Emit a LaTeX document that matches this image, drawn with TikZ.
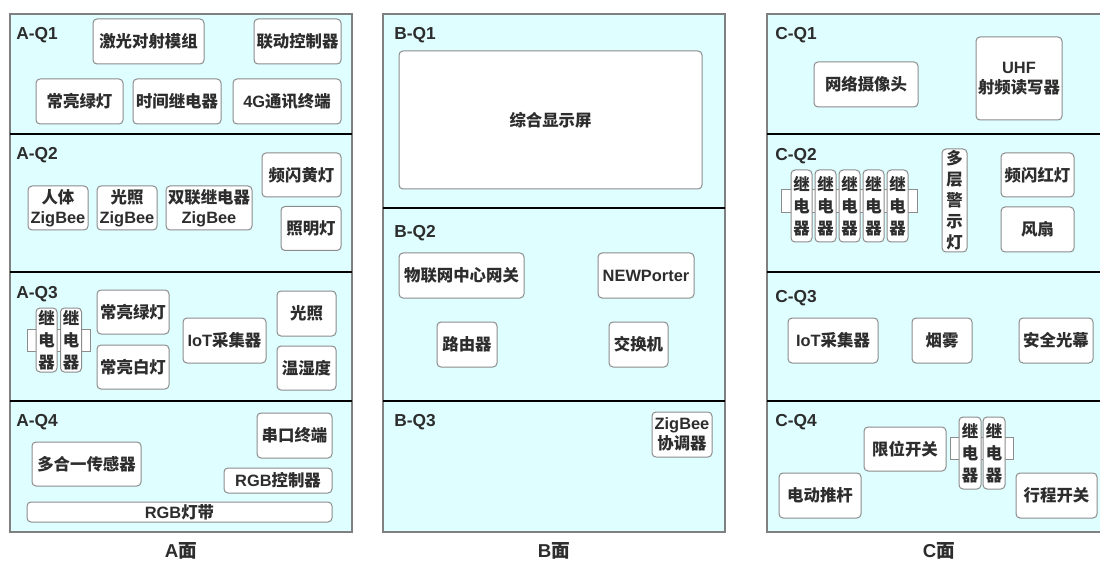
\documentclass[tikz,border=0pt]{standalone}
\usepackage{fontspec}
\setmainfont{Liberation Sans}
\newfontfamily\cjkf{Noto Sans CJK SC}
\newfontfamily\latf{Liberation Sans}
\newcommand\La[1]{{\latf\bfseries #1}}
\definecolor{panelfill}{RGB}{222,254,255}
\definecolor{panelborder}{RGB}{128,128,128}
\definecolor{boxborder}{RGB}{140,140,140}
\definecolor{txt}{RGB}{45,45,45}
\tikzset{
  panel/.style={draw=panelborder, fill=panelfill, line width=1.1pt, inner sep=0},
  divline/.style={line width=2pt, black},
  sz/.style 2 args={minimum width=#1*0.75pt, minimum height=#2*0.75pt},
  box/.style={draw=boxborder, fill=white, rounded corners=3pt, line width=0.75pt, inner sep=0, align=center, text=txt,
     font=\cjkf\bfseries\fontsize{12.3pt}{15pt}\selectfont},
  vbox/.style={box, font=\cjkf\bfseries\fontsize{12.3pt}{16.5pt}\selectfont},
  conn/.style={draw=boxborder, fill=white, line width=0.75pt, inner sep=0},
  seclabel/.style={anchor=west, inner sep=0, text=txt, font=\latf\bfseries\fontsize{13pt}{15pt}\selectfont},
  facelabel/.style={inner sep=0, text=txt, font=\cjkf\bfseries\fontsize{14pt}{16pt}\selectfont},
}
\begin{document}
\begin{tikzpicture}[x=0.75pt, y=-0.75pt]
\useasboundingbox (0,0) rectangle (1100,563);
\clip (0,0) rectangle (1100,563);
% panels
\node[panel, sz={342}{518}] (PA) at (181,273) {};
\node[panel, sz={342}{518}] (PB) at (554,273) {};
\node[panel, sz={338}{518}] (PC) at (936,273) {};
% dividers
\draw[divline] (10,134) -- (352,134);
\draw[divline] (10,272) -- (352,272);
\draw[divline] (10,401) -- (352,401);
\draw[divline] (383,208) -- (725,208);
\draw[divline] (383,401) -- (725,401);
\draw[divline] (767,134) -- (1105,134);
\draw[divline] (767,272) -- (1105,272);
\draw[divline] (767,401) -- (1105,401);
% section labels
\node[seclabel] (aq1) at (16,35) {A-Q1};
\node[seclabel] (aq2) at (16,155) {A-Q2};
\node[seclabel] (aq3) at (16,294) {A-Q3};
\node[seclabel] (aq4) at (16,422) {A-Q4};
\node[seclabel] (bq1) at (394,35) {B-Q1};
\node[seclabel] (bq2) at (394,233) {B-Q2};
\node[seclabel] (bq3) at (394,422) {B-Q3};
\node[seclabel] (cq1) at (775,35) {C-Q1};
\node[seclabel] (cq2) at (775,156) {C-Q2};
\node[seclabel] (cq3) at (775,298) {C-Q3};
\node[seclabel] (cq4) at (775,422) {C-Q4};
% ---- A face
\node[box, sz={111}{45}] (a1) at (148.5,41.5) {激光对射模组};
\node[box, sz={87}{45}] (a2) at (297.5,41.5) {联动控制器};
\node[box, sz={87}{45}] (a3) at (79.5,101.5) {常亮绿灯};
\node[box, sz={88}{45}] (a4) at (177,101.5) {时间继电器};
\node[box, sz={108}{45}] (a5) at (287,101.5) {\La{4G}通讯终端};
\node[box, sz={79}{44}] (a6) at (301.5,175) {频闪黄灯};
\node[box, sz={60}{44}] (a7) at (58,208) {人体\\\La{ZigBee}};
\node[box, sz={60}{44}] (a8) at (127,208) {光照\\\La{ZigBee}};
\node[box, sz={86}{44}] (a9) at (209,208) {双联继电器\\\La{ZigBee}};
\node[box, sz={60}{44}] (a10) at (311,228.5) {照明灯};
\node[conn, sz={63}{22}] (a11c) at (58.5,340) {};
\node[vbox, sz={21}{64}] (a11) at (46.5,340) {继\\电\\器};
\node[vbox, sz={21}{64}] (a12) at (71,340) {继\\电\\器};
\node[box, sz={72}{44}] (a13) at (133,312) {常亮绿灯};
\node[box, sz={72}{44}] (a14) at (133,367) {常亮白灯};
\node[box, sz={83}{45}] (a15) at (224.5,340.5) {\La{IoT}采集器};
\node[box, sz={59}{45}] (a16) at (306.5,313.5) {光照};
\node[box, sz={59}{44}] (a17) at (306.5,368) {温湿度};
\node[box, sz={75}{45}] (a18) at (294.5,435.5) {串口终端};
\node[box, sz={109}{44}] (a19) at (86.5,464) {多合一传感器};
\node[box, sz={108}{25}] (a20) at (278,480.5) {\La{RGB}控制器};
\node[box, sz={305}{20}] (a21) at (179.5,512) {\La{RGB}灯带};
% ---- B face
\node[box, sz={303}{138}] (b1) at (550.5,120) {综合显示屏};
\node[box, sz={125}{45}] (b2) at (461.5,275.5) {物联网中心网关};
\node[box, sz={96}{45}] (b3) at (646,275.5) {\La{NEWPorter}};
\node[box, sz={60}{45}] (b4) at (467,344.5) {路由器};
\node[box, sz={59}{45}] (b5) at (638.5,344.5) {交换机};
\node[box, sz={60}{45}] (b6) at (682,434.5) {\La{ZigBee}\\协调器};
% ---- C face
\node[box, sz={104}{45}] (c1) at (866,84.5) {网络摄像头};
\node[box, sz={86}{83}] (c2) at (1019,78.5) {\La{UHF}\\射频读写器};
\node[conn, sz={136}{23}] (c3c) at (849,201.5) {};
\node[vbox, sz={21}{72}] (c3) at (801.5,206) {继\\电\\器};
\node[vbox, sz={21}{72}] (c4) at (825.5,206) {继\\电\\器};
\node[vbox, sz={21}{72}] (c5) at (849.5,206) {继\\电\\器};
\node[vbox, sz={21}{72}] (c6) at (873.5,206) {继\\电\\器};
\node[vbox, sz={21}{72}] (c7) at (897.5,206) {继\\电\\器};
\node[vbox, sz={25}{103}, font=\cjkf\bfseries\fontsize{12.3pt}{15.8pt}\selectfont] (c8) at (954.5,200.5) {多\\层\\警\\示\\灯};
\node[box, sz={73}{44}] (c9) at (1037.5,175) {频闪红灯};
\node[box, sz={73}{45}] (c10) at (1037.5,229.5) {风扇};
\node[box, sz={90}{45}] (c11) at (833,340.5) {\La{IoT}采集器};
\node[box, sz={60}{45}] (c12) at (942,340.5) {烟雾};
\node[box, sz={74}{45}] (c13) at (1056,340.5) {安全光幕};
\node[box, sz={82}{44}] (c14) at (905,449) {限位开关};
\node[conn, sz={63}{22}] (c15c) at (981.5,448) {};
\node[vbox, sz={22}{72}] (c15) at (970,453) {继\\电\\器};
\node[vbox, sz={22}{72}] (c16) at (994,453) {继\\电\\器};
\node[box, sz={82}{45}] (c17) at (820,495.5) {电动推杆};
\node[box, sz={81}{45}] (c18) at (1056.5,495.5) {行程开关};
% face labels
\node[facelabel] (fa) at (181,551) {\La{A}面};
\node[facelabel] (fb) at (554,551) {\La{B}面};
\node[facelabel] (fc) at (939,551) {\La{C}面};
\end{tikzpicture}
\end{document}
